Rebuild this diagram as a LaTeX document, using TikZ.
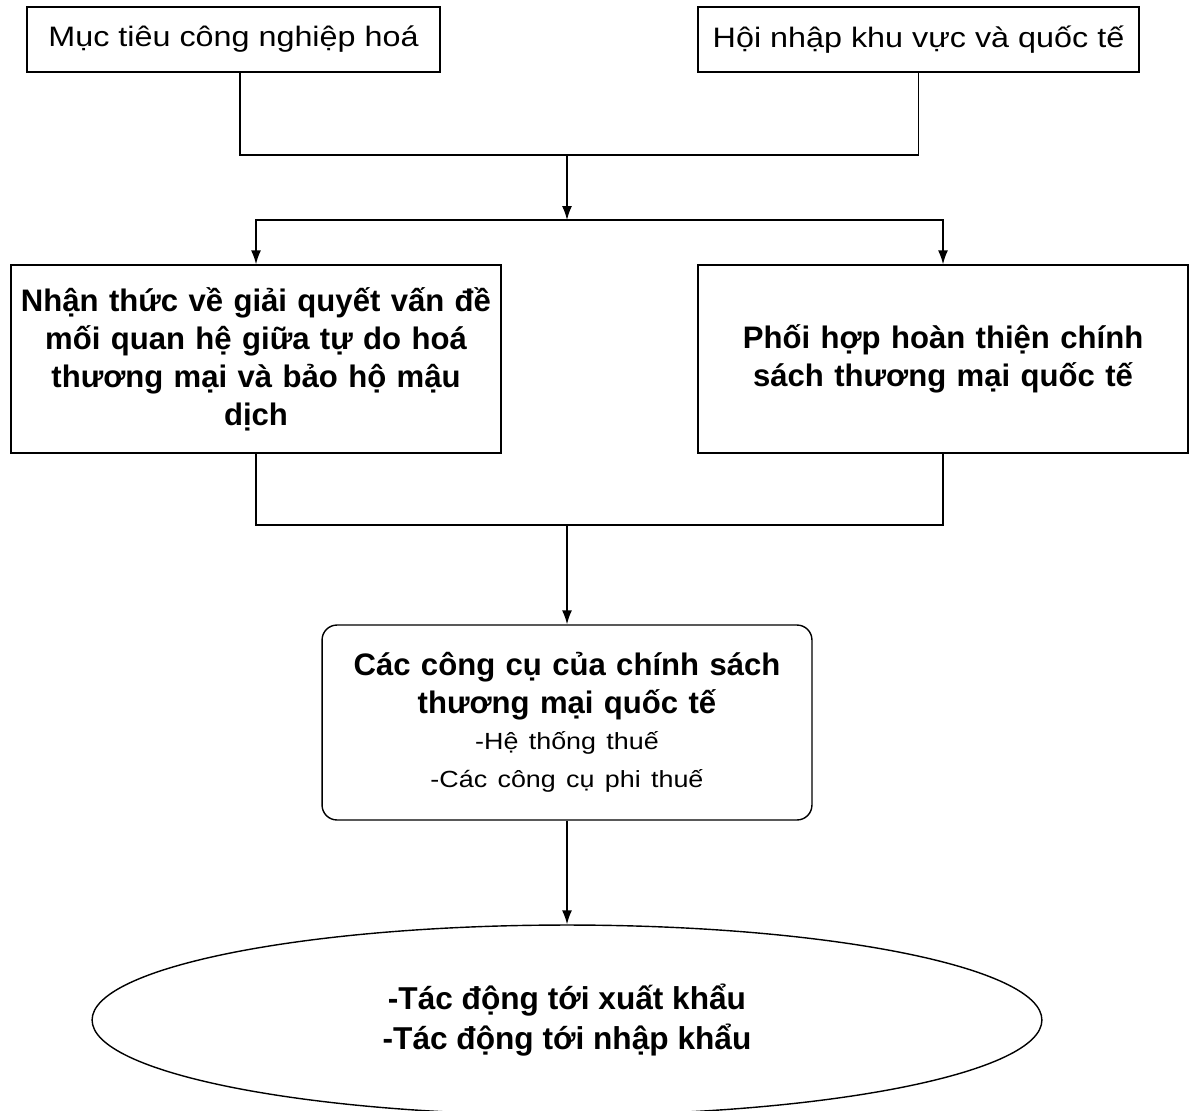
\documentclass[tikz,border=0pt]{standalone}
\usepackage{fontspec}
\setmainfont{Liberation Sans}
\newfontfamily\widefont{Liberation Sans}[FakeStretch=1.15]
\usepackage{tikz}
\usetikzlibrary{shapes,arrows,arrows.meta}
\usetikzlibrary{positioning}
\tikzstyle{topbox} = [rectangle, draw=black, line width=0.8pt, minimum height=1.3cm,
font=\widefont\fontsize{16}{19}\selectfont]
\tikzstyle{bigbox} = [rectangle, draw=black, line width=0.8pt, minimum width=9.8cm,
minimum height=3.76cm, text width=9.7cm, inner sep=1pt, align=center,
font=\bfseries\fontsize{17.7}{21.6}\selectfont]
\tikzstyle{toolbox} = [bigbox, rounded corners=0.3cm, minimum height=3.9cm]
\tikzstyle{result} = [ellipse, draw=black, line width=0.8pt, minimum width=19cm,
minimum height=3.8cm, inner sep=0pt, align=center,
font=\bfseries\fontsize{18}{22.7}\selectfont]
\tikzstyle{line} = [draw, line width=0.8pt, -{Latex[length=2.8mm,width=2mm]}]
\newcommand{\subtext}{\mdseries\widefont\fontsize{13.3}{20.5}\selectfont}

\begin{document}
\begin{tikzpicture}[x=0.02cm, y=-0.02cm]
	\useasboundingbox (0,0) rectangle (1190,1110);
	\node [topbox, minimum width=8.26cm] (goal) at (233.5,39.5) {Mục tiêu công nghiệp hoá};
	\node [topbox, minimum width=8.82cm] (integ) at (918.5,39.5) {Hội nhập khu vực và quốc tế};
	\node [bigbox] (aware) at (256,359) {Nhận thức về giải quyết vấn đề\\ mối quan hệ giữa tự do hoá\\ thương mại và bảo hộ mậu\\ dịch};
	\node [bigbox] (coord) at (943,359) {Phối hợp hoàn thiện chính\\ sách thương mại quốc tế};
	\node [toolbox] (tools) at (567,722.5) {Các công cụ của chính sách\\ thương mại quốc tế\\
		\subtext -Hệ thống thuế\\ \subtext -Các công cụ phi thuế};
	\node [result] (effect) at (567,1020) {-Tác động tới xuất khẩu\\ -Tác động tới nhập khẩu};
	\coordinate (j1) at (567,155);
	\coordinate (s1) at (567,220);
	\coordinate (j2) at (567,525);
	%% Flows
	\draw [line width=0.8pt] ([xshift=0.13cm]goal.south) |- (j1) -| (integ.south);
	\path [line] (j1) -- (s1);
	\path [line] (s1) -| (aware.north);
	\path [line] (s1) -| (coord.north);
	\draw [line width=0.8pt] (aware.south) |- (j2) -| (coord.south);
	\path [line] (j2) -- (tools.north);
	\path [line] (tools.south) -- (effect.north);
\end{tikzpicture}
\end{document}
